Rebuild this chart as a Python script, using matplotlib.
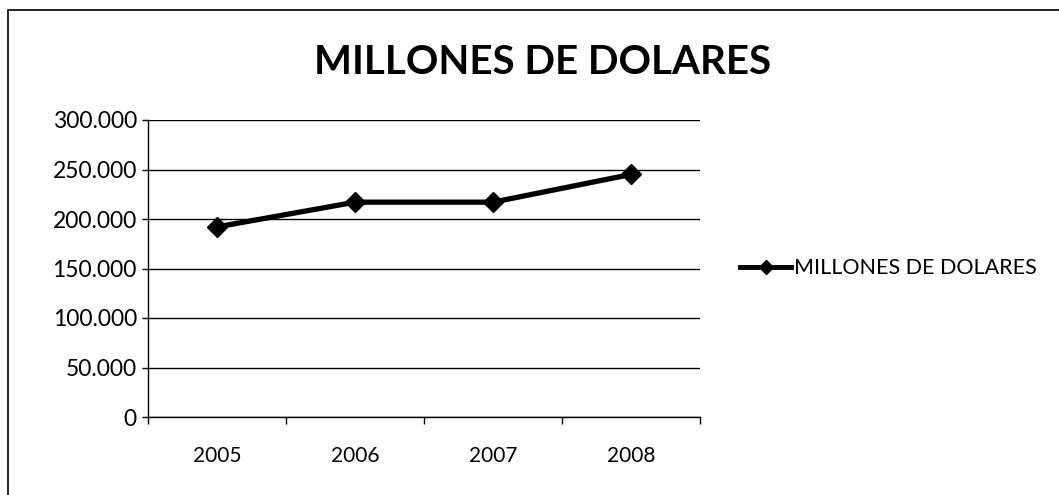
import matplotlib
matplotlib.use("Agg")
import matplotlib.pyplot as plt
from matplotlib.ticker import FuncFormatter, FixedLocator
from matplotlib.patches import Rectangle

years = ["2005", "2006", "2007", "2008"]
values = [192000, 217000, 217000, 245000]
yticks = [0, 50000, 100000, 150000, 200000, 250000, 300000]
series_name = "MILLONES DE DOLARES"
title = "MILLONES DE DOLARES"

plt.rcParams['font.family'] = ['Lato', 'DejaVu Sans']

fig = plt.figure(figsize=(10.59, 4.95), dpi=100)
fig.patch.set_facecolor('white')
fig.patches.append(Rectangle((8/1059, -0.1), 1.2, 1 - 10/495 + 0.1, transform=fig.transFigure,
                             fill=False, edgecolor='black', linewidth=1.2))

ax = fig.add_axes([148/1059, 1 - 417/495, (700-148)/1059, (417-120)/495])
x = list(range(len(years)))
ax.plot(x, values, color='black', linewidth=3.8, marker='D', markersize=10,
        markerfacecolor='black', markeredgecolor='black', label=series_name)

ax.set_xlim(-0.5, len(years) - 0.5)
ax.set_ylim(0, 300000)
ax.set_yticks(yticks)
ax.yaxis.set_major_formatter(FuncFormatter(lambda v, p: f"{int(v):,}".replace(",", ".")))
ax.set_xticks(x)
ax.set_xticklabels(years)
ax.xaxis.set_minor_locator(FixedLocator([i + 0.5 for i in range(-1, len(years))]))
ax.tick_params(axis='x', which='major', length=0, pad=21, labelsize=15)
ax.tick_params(axis='x', which='minor', length=5, direction='out', width=1)
ax.tick_params(axis='y', length=4, direction='out', width=1, labelsize=16.5, pad=4)
ax.grid(axis='y', color='black', linewidth=1)
ax.set_axisbelow(True)
for s in ['top', 'right']:
    ax.spines[s].set_visible(False)
ax.spines['left'].set_linewidth(1)
ax.spines['bottom'].set_linewidth(1)

fig.text(543/1059, 1 - 62/495, title, ha='center', va='center', fontsize=29, fontweight='bold')

leg = ax.legend(loc='center left', bbox_to_anchor=(1.037, 0.5), frameon=False, fontsize=15.5,
                handlelength=2.4, handletextpad=0.1, markerscale=0.7)
for line in leg.get_lines():
    line.set_linewidth(3.5)

fig.savefig("out.png", dpi=100, facecolor='white')
